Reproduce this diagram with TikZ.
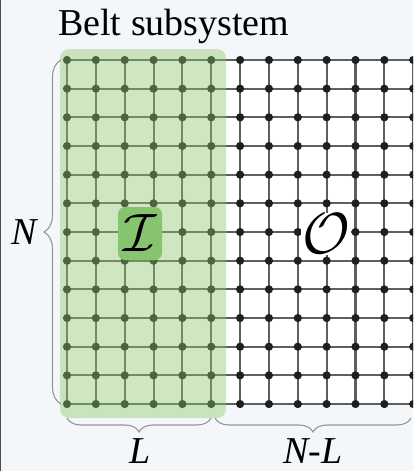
\RequirePackage{fix-cm}
\documentclass[tikz,border=0pt]{standalone}
\usepackage{fontspec}
\setmainfont{Liberation Serif}
\usetikzlibrary{decorations.pathreplacing}
\definecolor{bg}{RGB}{244,247,249}
\definecolor{gridline}{RGB}{95,95,95}
\definecolor{beltgreen}{RGB}{140,200,110}
\definecolor{boxgreen}{RGB}{135,196,112}
\definecolor{bracegray}{RGB}{150,150,150}
\tikzset{
  gridedge/.style={draw=gridline, line width=2.1pt},
  gdot/.style={fill=black!88},
  bracestyle/.style={draw=bracegray, line width=1.1pt, decorate,
    decoration={brace, amplitude=#1}},
  lab/.style={font=\fontsize{38}{38}\selectfont\itshape, inner sep=0pt, anchor=base},
}
\begin{document}
\begin{tikzpicture}[x=1pt,y=-1pt]
\useasboundingbox (0,0) rectangle (413,471);
\fill[bg] (0,0) rectangle (413,471);
\draw[black!70, line width=1.2pt] (0.6,0) -- (0.6,471);
\clip (0,0) rectangle (413,471);
% grid coordinates
\foreach \i in {0,...,12} {
  \foreach \j in {0,...,12} {
    \coordinate (g-\i-\j) at ({67+28.85*\i},{60+28.67*\j});
  }
}
\fill[white] (g-0-0) rectangle ([xshift=10pt]g-12-12);
\foreach \j in {0,...,12} { \draw[gridedge] (g-0-\j) -- ([xshift=10pt]g-12-\j); }
\foreach \i in {0,...,12} { \draw[gridedge] (g-\i-0) -- (g-\i-12); }
\foreach \i in {0,...,12} {
  \foreach \j in {0,...,12} {
    \fill[gdot] (g-\i-\j) circle (4.1pt);
  }
}
% belt subsystem region
\fill[beltgreen, opacity=0.42, rounded corners=9pt] (60,49) rectangle (226,418);
% title
\node[anchor=base west, inner sep=0pt, font=\fontsize{38}{38}\selectfont] (title) at (58,35) {Belt subsystem};
% I box
\node[fill=boxgreen, rounded corners=7pt, minimum width=44pt, minimum height=53pt, inner sep=0pt,
      font=\fontsize{54}{54}\selectfont] (I) at (140,233.5) {$\mathcal{I}$};
% O label
\node[fill=white, inner sep=1pt, font=\fontsize{58}{58}\selectfont] (O) at (326,234) {$\mathcal{O}$};
% braces
\coordinate (nb) at (61,404);
\coordinate (nt) at (61,60);
\draw[bracestyle=17pt] (nb) -- (nt);
\node[lab] (N) at (24,244) {N};
\coordinate (lr) at (211,418);
\coordinate (ll) at (67,418);
\draw[bracestyle=14pt] (lr) -- (ll);
\node[lab] (L) at (140,463) {L};
\coordinate (nlr) at (411,418);
\coordinate (nll) at (215,418);
\draw[bracestyle=14pt] (nlr) -- (nll);
\node[lab] (NL) at (313,463) {N-L};
\end{tikzpicture}
\end{document}
